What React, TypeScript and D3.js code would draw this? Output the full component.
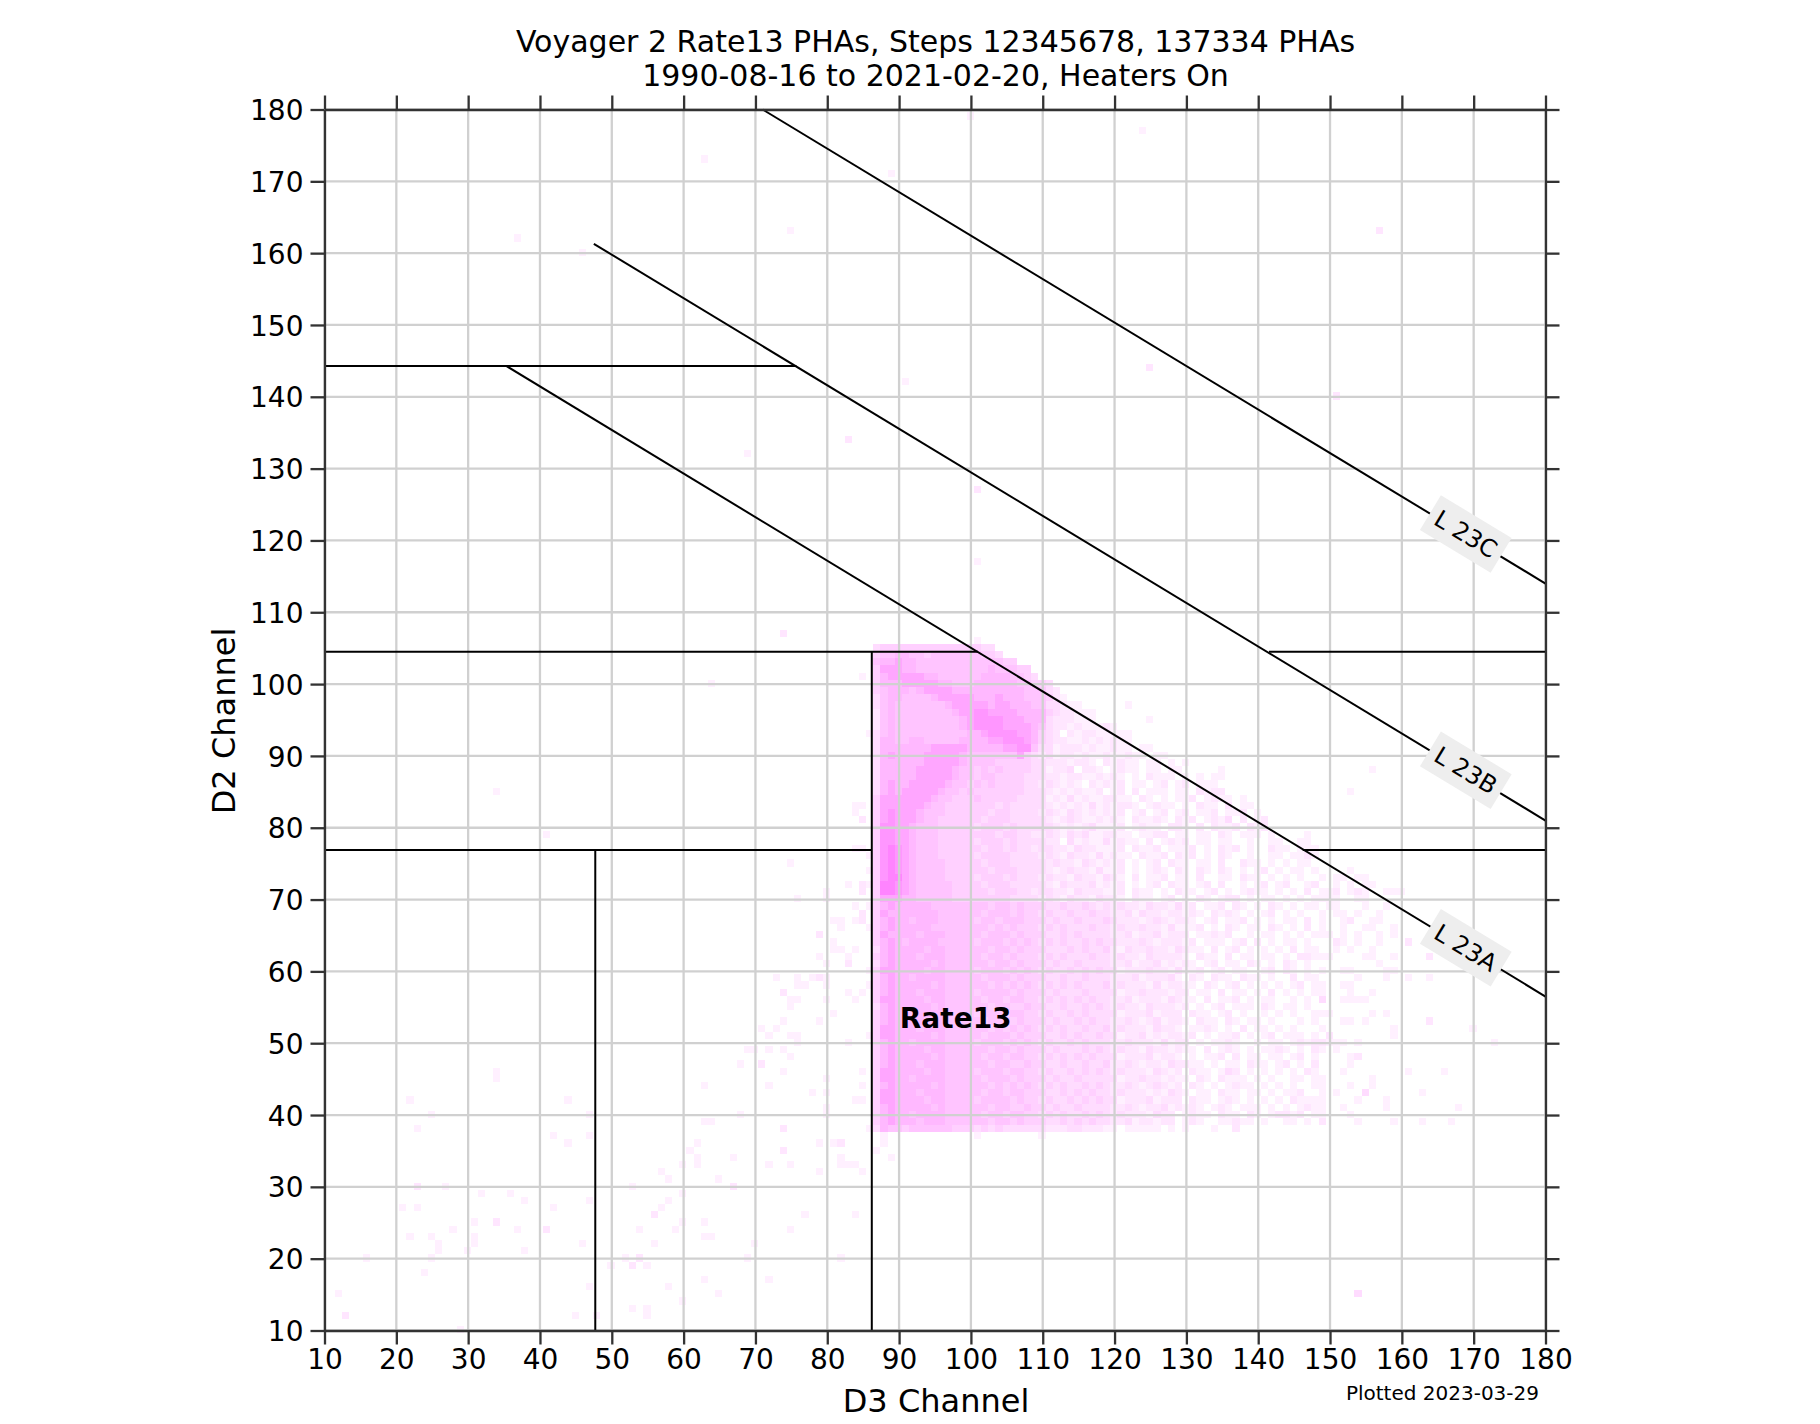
import { useEffect, useRef } from "react";
import * as d3 from "d3";

const titleLines = [
  "Voyager 2 Rate13 PHAs, Steps 12345678, 137334 PHAs",
  "1990-08-16 to 2021-02-20, Heaters On",
];
const xLabel = "D3 Channel";
const yLabel = "D2 Channel";
const plottedNote = "Plotted 2023-03-29";
const ticks = d3.range(10, 181, 10);

// count level per D3 channel, one string per D2 channel from 105 down to 37
// groups start at D3 = 87, 90, 100, 110, ... so a group can be shorter than its decade
const groupStarts = [87, 90, 100, 110, 120, 130, 140, 150, 160, 170];
const topRow = 105;
const densityRows = [
  "344 4444444444 4433",
  "455 6655455555 55443",
  "566 7665555555 5555544",
  "477 7665555555 555655544",
  "467 7777665555 5566665543",
  "466 6777776655 5666666554 43",
  "456 6656777766 6666666655 532",
  "356 6555567777 7666766655 5421",
  "356 5555555677 7776776665 5332110000 001",
  "256 5555555567 7887777666 6432211100",
  "256 5555555556 7888877766 6322211100 0000010000",
  "256 5555555556 7888877776 5322121112 1",
  "356 5555555555 6678888776 4320212211 111",
  "366 5566555556 6667788876 4322112121 211",
  "366 6666677777 6666677885 3312221211 2110110000",
  "367 6666777776 5555555743 2312212112 1121101100",
  "366 6666777776 5555444443 3222122102 1211011010 1",
  "366 6667777765 5454544443 3122302210 1211011011 0000010000 0000000000 0000001",
  "366 6667777765 5455444433 3221221121 2101021110 1010110",
  "367 6677777655 4545444433 2321210212 1201101201 2011100",
  "367 6777776554 5444444433 3212121120 1202011101 1021220000 0000000000 0001",
  "477 7777765544 4544444333 3121312112 2110210101 1201211010",
  "477 7777655444 4444343333 3212121312 1221012110 1021102011",
  "478 7776555444 4443443333 2321321212 1201201201 2011201120 10",
  "478 7776554444 4434443333 3212321121 2102112102 1201213020 12",
  "488 7765554444 4344434333 3321212311 1201211022 1020211202 12",
  "488 7765554444 4444344332 2321323112 2110112201 1011021011 1010000100",
  "488 7765554444 4344434333 3220312113 1211020121 2011011001 0011001100",
  "489 8765554444 4434434332 3322132211 1202112011 1201021201 0021101110",
  "489 8765554444 4344443333 2321322131 2110211202 1201021001 0011011210",
  "489 8765555444 4434443333 3232213212 1201012021 1011020021 1010101100",
  "489 8765555444 4443444333 3212322131 1201012102 1021021010 1201011010 0001000000",
  "489 9765555444 4344434333 2322132213 2102011201 1020011021 1010101001 0110110000",
  "499 8765555544 4434443333 3213222312 1201012021 1012020010 1201200120 0101011000",
  "499 8765555544 4443444332 3322132221 1202110102 1101201012 1101010201 1201210011 1",
  "477 7665555544 4444443333 2321322132 2102110120 1021012201 0110101011 1100110000",
  "467 6666655555 5554554544 4334334323 2322132213 1201120210 1021010110 1100010010",
  "476 6666665555 5545554544 3433433433 2231322122 1210212101 0120101001 0110100100",
  "467 6656665555 5455455544 4343343334 3222123212 2101201120 1010110201 0012001100",
  "467 6666655555 5554545444 3434333433 2322322131 1120102101 1021010201 0010011001",
  "476 6665666555 5545554544 4334343333 2231223122 2011212001 0110101011 1010100101",
  "467 6566665555 5455545454 3434334343 3222321222 1201110120 2010110100 0210100100 0200000000",
  "367 6666566555 5554554544 4333434334 2132232213 2110201201 0101020110 0101001000",
  "467 6665666555 5545545444 3434333433 2322132222 1021102011 0110102211 1000011001 0000200000",
  "367 6666656555 5554554544 4343343333 2231223121 2101201102 1010210100 0000000100",
  "477 6666566555 5455545454 3433434343 3122232213 1120120110 0120210101 0011000011",
  "467 6656666555 5545554544 4334334333 2223122231 0210211021 1010020110 0000100010 0100100000",
  "467 6666656555 5554545454 3434343334 2322213122 1102101201 0101012011 0011000000",
  "467 6665666555 5455554544 4343334333 3122322212 2011020110 1020101011 0001001000",
  "477 6666566555 5545545544 3434343433 2231222132 1102011201 0110010103 0011110000",
  "367 6666656555 5554554454 4334334343 2322132221 2010120111 0210110100",
  "467 6656666655 5455545544 3433434333 3122231222 0211012010 0101010011 1000001010",
  "467 6666566555 5545554544 4343343433 2232123122 1021102101 1010001010 0011010000 0000200000",
  "477 6665666555 5554545454 3434334334 2322213221 0112101020 1101010001 0000000001 0000000000 1",
  "477 6666656555 5545554544 4334343343 3122312122 1201011201 0120111010 2000000001",
  "467 6656666555 5455545454 3433434333 2232221312 2010112100 1011012122 1110100000 0000000000 0001",
  "467 6666566555 5554554544 4343334343 2322132212 1102012101 0112101021 0100000000",
  "467 6666656555 5545545544 3434343433 3122231221 0101120201 1011012010 0001200000",
  "467 6665666555 5554554454 4334334334 2232122132 2110101102 1101201020 0001000000",
  "477 6666566555 5455545544 3433434343 2322213212 0211013201 0101010210 0010000000 0100001",
  "477 6656666555 5545554544 4343343333 3122322121 1021021110 1010011011 0000001000",
  "467 6666656555 5554545454 3434334343 2232123212 0210101211 0101010011 0001001000",
  "477 6665666555 5545545544 4334343433 2322212132 1011021101 1010112001 0100030000 0001",
  "477 6666566555 5455554544 3433434343 3122231222 0211012101 0101021111 0000100010",
  "467 6666656555 5554554454 4343343333 2232122312 1210121011 1010101211 0010000010 0000000010",
  "467 6656666555 5545545544 3434334343 2322213220 1211021102 1012212011 0001000000",
  "467 6665666555 5554554544 4334343433 2231221220 1210011211 0100110102 0000100001 0001000100",
  "365 5455555544 4343433333 3222332221 1011111010 1000100200",
  "010 0000000000 0100000000 1",
];

// isolated channels outside the dense block: [D3, D2, level]
const strayCounts: [number, number, number][] = [
  [63, 173, 1], [37, 162, 1], [46, 160, 1], [75, 163, 1], [89, 171, 1], [100, 179, 1], [124, 177, 1], [157, 163, 2],
  [125, 144, 2], [151, 140, 2], [91, 142, 1], [83, 134, 2], [69, 132, 1], [101, 127, 2], [101, 117, 1], [74, 107, 2],
  [101, 106, 1], [64, 100, 1], [34, 85, 1], [41, 79, 1], [153, 85, 1], [156, 88, 1], [154, 15, 3],
  [85, 101, 1], [86, 93, 1], [84, 83, 1], [85, 83, 1], [84, 82, 1], [85, 81, 2], [84, 77, 1], [85, 77, 1],
  [86, 76, 1], [86, 74, 1], [83, 72, 1], [85, 72, 2], [86, 72, 1], [85, 71, 2], [84, 69, 1], [86, 69, 1],
  [85, 68, 2], [85, 67, 2], [81, 67, 1], [82, 67, 1], [84, 67, 1], [82, 66, 1], [86, 66, 1], [79, 65, 2],
  [81, 64, 1], [81, 63, 1], [82, 63, 1], [84, 63, 1], [79, 62, 1], [83, 62, 1], [80, 61, 1], [83, 61, 2],
  [86, 60, 1], [73, 59, 1], [76, 59, 1], [78, 59, 1], [79, 59, 2], [80, 59, 1], [76, 58, 1], [77, 58, 1],
  [80, 58, 1], [86, 58, 1], [74, 57, 2], [83, 57, 1], [85, 57, 1], [75, 56, 1], [76, 56, 1], [80, 56, 1],
  [84, 56, 1], [75, 55, 1], [81, 54, 1], [74, 53, 1], [79, 53, 1], [71, 52, 1], [73, 52, 1], [72, 51, 1],
  [75, 51, 1], [76, 51, 1], [86, 51, 1], [76, 50, 1], [83, 50, 1], [69, 49, 1], [70, 49, 1], [72, 49, 1],
  [74, 49, 1], [75, 48, 1], [68, 47, 1], [71, 47, 2], [74, 46, 1], [85, 46, 1], [80, 45, 1], [63, 44, 1],
  [72, 44, 1], [85, 44, 1], [78, 43, 1], [80, 43, 1], [84, 42, 1], [85, 42, 1], [80, 41, 1], [80, 40, 1],
  [68, 40, 1], [63, 39, 1], [64, 39, 1], [74, 38, 2], [86, 38, 1], [79, 36, 1], [81, 36, 1], [82, 36, 2],
  [62, 36, 1], [61, 35, 1], [74, 35, 2], [62, 34, 1], [62, 33, 1], [67, 34, 1], [82, 34, 1], [82, 33, 1],
  [83, 33, 1], [84, 33, 1], [72, 33, 1], [75, 33, 1], [60, 33, 1], [57, 32, 1], [58, 31, 1], [65, 31, 1],
  [79, 32, 1], [85, 32, 1], [53, 30, 1], [67, 30, 2], [60, 29, 1], [58, 28, 1], [75, 75, 1],
  [80, 71, 1], [80, 70, 1], [76, 70, 1],
  [34, 46, 1], [34, 45, 1], [22, 42, 1], [44, 42, 1], [25, 40, 1], [47, 40, 1], [23, 38, 1], [42, 37, 1],
  [47, 37, 1], [44, 36, 1], [23, 30, 2], [27, 30, 1], [32, 29, 1], [36, 29, 1], [38, 28, 1], [47, 28, 1],
  [21, 27, 1], [23, 27, 1], [42, 27, 1], [31, 25, 1], [34, 25, 2], [28, 24, 1], [37, 24, 1], [41, 24, 2],
  [22, 23, 1], [25, 23, 1], [31, 23, 1], [31, 22, 1], [26, 22, 1], [26, 21, 1], [46, 22, 1], [30, 21, 1],
  [38, 21, 1], [16, 20, 1], [25, 20, 1], [24, 18, 1], [47, 16, 1], [12, 15, 1], [13, 12, 2], [45, 12, 1],
  [48, 12, 1], [29, 10, 1], [50, 19, 1], [52, 20, 1], [53, 19, 2], [54, 20, 2], [55, 19, 1], [54, 24, 1],
  [53, 13, 1], [55, 13, 1], [55, 12, 1], [57, 27, 1], [56, 26, 2], [56, 22, 1], [59, 24, 1],
  [60, 25, 1], [60, 14, 1], [58, 16, 1], [63, 25, 1], [63, 23, 1], [64, 23, 1], [70, 22, 1],
  [69, 20, 1], [63, 17, 1], [65, 15, 1], [72, 17, 1], [77, 26, 1], [84, 26, 1], [75, 24, 1], [82, 20, 1],
  [88, 36, 1], [87, 35, 1], [89, 34, 1],
];

const levelColors = [
  "#ffffff", "#fff0ff", "#ffe6ff", "#ffdcff", "#ffd0ff", "#ffc4ff", "#ffb8ff", "#ffa6ff", "#ff96ff", "#ff84ff",
];

// boundary lines as [D3, D2] end points
const boundaries: [number, number][][] = [
  [[71, 180], [180, 114]],
  [[47.5, 161.3], [180, 81]],
  [[35.3, 144.3], [180, 56.5]],
  [[10, 144.3], [75.7, 144.3]],
  [[10, 104.5], [101, 104.5]],
  [[141.5, 104.5], [180, 104.5]],
  [[10, 76.9], [86.2, 76.9]],
  [[146.2, 76.9], [180, 76.9]],
  [[86.2, 10], [86.2, 104.5]],
  [[47.7, 10], [47.7, 76.9]],
];
const lineLabels = [
  { text: "L 23C", x: 168.9, y: 120.9 },
  { text: "L 23B", x: 168.9, y: 88.0 },
  { text: "L 23A", x: 168.9, y: 63.3 },
];

export default function App() {
  const ref = useRef<SVGSVGElement | null>(null);

  useEffect(() => {
    if (!ref.current) return;
    const svg = d3.select(ref.current);
    svg.selectAll("*").remove();
    const font = "DejaVu Sans";

    const x = d3.scaleLinear().domain([10, 180]).range([324.5, 1545.5]);
    const y = d3.scaleLinear().domain([10, 180]).range([1330.5, 109.5]);

    const cells: [number, number, number][] = [...strayCounts];
    densityRows.forEach((row, i) => {
      row.split(" ").forEach((group, g) => {
        group.split("").forEach((ch, k) => {
          if (ch !== "0") cells.push([groupStarts[g] + k, topRow - i, +ch]);
        });
      });
    });

    svg.append("g")
      .attr("shape-rendering", "crispEdges")
      .selectAll("rect")
      .data(cells)
      .enter()
      .append("rect")
      .attr("x", (d) => x(d[0] - 0.6))
      .attr("y", (d) => y(d[1] + 0.6))
      .attr("width", x(1) - x(0))
      .attr("height", y(0) - y(1))
      .attr("fill", (d) => levelColors[d[2]]);

    // grid
    const grid = svg.append("g").attr("stroke", "#d0d0d0").attr("stroke-width", 2.3);
    grid.selectAll("line.v")
      .data(ticks)
      .enter()
      .append("line")
      .attr("x1", (d) => x(d))
      .attr("x2", (d) => x(d))
      .attr("y1", y(10))
      .attr("y2", y(180));
    grid.selectAll("line.h")
      .data(ticks)
      .enter()
      .append("line")
      .attr("class", "h")
      .attr("x1", x(10))
      .attr("x2", x(180))
      .attr("y1", (d) => y(d))
      .attr("y2", (d) => y(d));

    // boundary lines
    const line = d3.line<[number, number]>().x((d) => x(d[0])).y((d) => y(d[1]));
    svg.append("g")
      .selectAll("path")
      .data(boundaries)
      .enter()
      .append("path")
      .attr("d", (d) => line(d))
      .attr("fill", "none")
      .attr("stroke", "#000")
      .attr("stroke-width", 2);

    // axes on all four sides, only bottom and left labelled
    const styleAxis = (g: any, labelled: boolean) => {
      g.selectAll(".domain").attr("stroke", "#333").attr("stroke-width", 2.3);
      g.selectAll(".tick line").attr("stroke", "#333").attr("stroke-width", 2.3);
      g.selectAll("text")
        .attr("font-family", font)
        .attr("font-size", 28)
        .attr("fill", labelled ? "#000" : "none");
    };
    svg.append("g")
      .attr("transform", `translate(0,${y(10)})`)
      .call(d3.axisBottom(x).tickValues(ticks).tickSize(14).tickSizeOuter(0).tickPadding(5).tickFormat(d3.format("d") as any))
      .call(styleAxis, true);
    svg.append("g")
      .attr("transform", `translate(${x(10)},0)`)
      .call(d3.axisLeft(y).tickValues(ticks).tickSize(14).tickSizeOuter(0).tickPadding(7).tickFormat(d3.format("d") as any))
      .call(styleAxis, true)
      .call((g: any) => g.selectAll("text").attr("dy", "0.36em"));
    svg.append("g")
      .attr("transform", `translate(0,${y(180)})`)
      .call(d3.axisTop(x).tickValues(ticks).tickSize(14).tickSizeOuter(0).tickFormat(() => ""))
      .call(styleAxis, false);
    svg.append("g")
      .attr("transform", `translate(${x(180)},0)`)
      .call(d3.axisRight(y).tickValues(ticks).tickSize(14).tickSizeOuter(0).tickFormat(() => ""))
      .call(styleAxis, false);

    // rotated line labels
    const labels = svg.append("g")
      .selectAll("g")
      .data(lineLabels)
      .enter()
      .append("g")
      .attr("transform", (d) => `translate(${x(d.x)},${y(d.y)}) rotate(31.1)`);
    labels.append("rect")
      .attr("x", -41.3)
      .attr("y", -20.3)
      .attr("width", 82.6)
      .attr("height", 40.6)
      .attr("fill", "#eeeeee");
    labels.append("text")
      .attr("text-anchor", "middle")
      .attr("y", 8.5)
      .attr("font-family", font)
      .attr("font-size", 24)
      .attr("fill", "#000")
      .text((d) => d.text);

    svg.append("text")
      .attr("x", x(90.1))
      .attr("y", y(52.1))
      .attr("font-family", font)
      .attr("font-weight", "bold")
      .attr("font-size", 28)
      .attr("fill", "#000")
      .text("Rate13");

    // titles and labels
    svg.selectAll("text.title")
      .data(titleLines)
      .enter()
      .append("text")
      .attr("class", "title")
      .attr("x", 935.5)
      .attr("y", (_, i) => 52 + i * 34)
      .attr("text-anchor", "middle")
      .attr("font-family", font)
      .attr("font-size", 30)
      .text((d) => d);
    svg.append("text")
      .attr("x", 936)
      .attr("y", 1412)
      .attr("text-anchor", "middle")
      .attr("font-family", font)
      .attr("font-size", 32)
      .text(xLabel);
    svg.append("text")
      .attr("transform", "translate(235,721) rotate(-90)")
      .attr("text-anchor", "middle")
      .attr("font-family", font)
      .attr("font-size", 32)
      .text(yLabel);
    svg.append("text")
      .attr("x", 1539)
      .attr("y", 1400)
      .attr("text-anchor", "end")
      .attr("font-family", font)
      .attr("font-size", 20)
      .text(plottedNote);
  }, []);

  return (
    <svg
      ref={ref}
      width={1820}
      height={1424}
      style={{ position: "absolute", left: 0, top: 0, background: "#fff" }}
    />
  );
}
